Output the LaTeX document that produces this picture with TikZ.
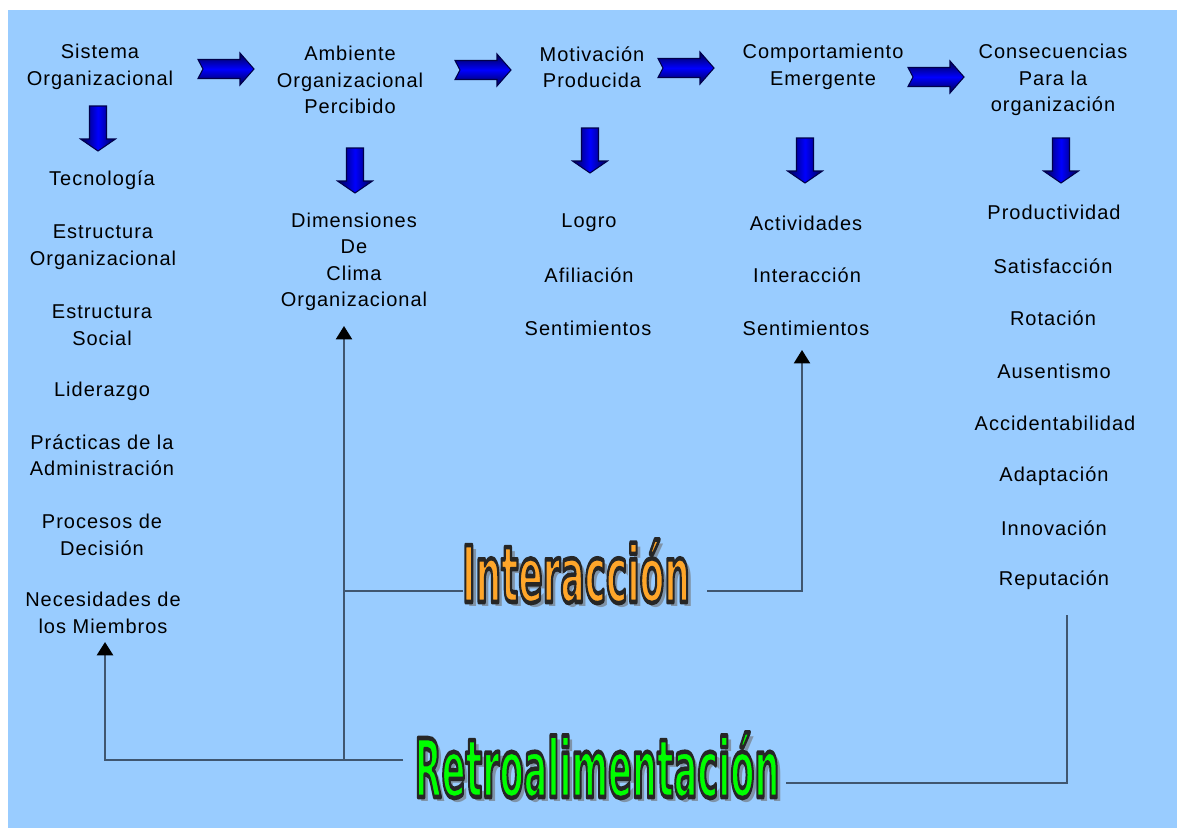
\documentclass[tikz,border=0pt]{standalone}
\usepackage{fontspec}
\setmainfont{Liberation Sans}[LetterSpace=5]
\newfontfamily\fancyfont{DejaVu Sans}
\usetikzlibrary{arrows.meta}
\definecolor{bg}{HTML}{99CCFF}
\definecolor{linec}{HTML}{3F5670}
\definecolor{navy}{HTML}{00004A}
\definecolor{brightblue}{HTML}{0000FF}
\definecolor{orangeT}{HTML}{FFA62A}
\definecolor{greenT}{HTML}{00FF00}
\definecolor{shadowc}{HTML}{7F93A8}
\newcommand\outlined[1]{\special{pdf:literal q 1 j 3.4 w 0.15 0.15 0.15 RG 2 Tr}#1\special{pdf:literal Q}}
\tikzset{
  lbl/.style={align=center, font=\fontsize{15}{19.9}\selectfont, inner sep=0pt, text=black},
  conn/.style={draw=linec, line width=1.6pt},
  tip/.style={-{Triangle[width=12pt,length=10pt,color=black]}},
  fancyI/.style={anchor=base, inner sep=0pt, xscale=0.46, font=\fancyfont\bfseries\fontsize{58.6}{60}\selectfont},
  fancyR/.style={anchor=base, inner sep=0pt, xscale=0.434, font=\fancyfont\bfseries\fontsize{60.7}{62}\selectfont},
  harrow/.pic={
    \path[draw=navy, line width=0.8pt, top color=navy, bottom color=navy, middle color=brightblue]
      (0,-9.5) -- (42,-9.5) -- (42,-16) -- (56,0) -- (42,16) -- (42,9.5) -- (0,9.5) -- (5,0) -- cycle;
  },
  darrow/.pic={
    \path[draw=navy, line width=0.8pt, left color=navy, right color=navy, middle color=brightblue]
      (-8.5,0) -- (8.5,0) -- (8.5,33) -- (17.5,33) -- (0,45) -- (-17.5,33) -- (-8.5,33) -- cycle;
  }
}
\begin{document}
\begin{tikzpicture}[x=0.75pt,y=-0.75pt]
\useasboundingbox (0,0) rectangle (1177,828);
\fill[bg] (8,10) rectangle (1177,828);

% column 1
\node[lbl] (sis) at (100,67) {Sistema\\Organizacional};
\node[lbl] (tec) at (102,180) {Tecnología};
\node[lbl] (est1) at (103,247) {Estructura\\Organizacional};
\node[lbl] (est2) at (102,325) {Estructura\\Social};
\node[lbl] (lid) at (102,391) {Liderazgo};
\node[lbl] (pra) at (102,455) {Prácticas de la\\Administración};
\node[lbl] (pro) at (102,535) {Procesos de\\Decisión};
\node[lbl] (nec) at (103,613) {Necesidades de\\los Miembros};

% column 2
\node[lbl] (amb) at (350,80) {Ambiente\\Organizacional\\Percibido};
\node[lbl] (dim) at (354,262) {Dimensiones\\De\\Clima\\Organizacional};

% column 3
\node[lbl] (mot) at (592,67) {Motivación\\Producida};
\node[lbl] (logro) at (589,223) {Logro};
\node[lbl] (afi) at (589,275) {Afiliación};
\node[lbl] (sen1) at (588,328) {Sentimientos};

% column 4
\node[lbl] (comp) at (823,67) {Comportamiento\\Emergente};
\node[lbl] (act) at (806,223) {Actividades};
\node[lbl] (int2) at (807,275) {Interacción};
\node[lbl] (sen2) at (806,328) {Sentimientos};

% column 5
\node[lbl] (cons) at (1053,80) {Consecuencias\\Para la\\organización};
\node[lbl] (prod) at (1054,212) {Productividad};
\node[lbl] (sat) at (1053,266) {Satisfacción};
\node[lbl] (rot) at (1053,318) {Rotación};
\node[lbl] (aus) at (1054,371) {Ausentismo};
\node[lbl] (acc) at (1055,423) {Accidentabilidad};
\node[lbl] (ada) at (1054,476) {Adaptación};
\node[lbl] (inn) at (1054,528) {Innovación};
\node[lbl] (rep) at (1054,580) {Reputación};

% block arrows
\pic at (198,69) {harrow};
\pic at (455,70) {harrow};
\pic at (658,68) {harrow};
\pic at (908,77) {harrow};
\pic at (98,106) {darrow};
\pic at (355,148) {darrow};
\pic at (590,128) {darrow};
\pic at (805,138) {darrow};
\pic at (1061,138) {darrow};

% fancy labels: shadow, then outlined coloured text
\node[fancyI, text=shadowc] (intershadow) at (580,606) {Interacción};
\node[fancyR, text=shadowc] (retroshadow) at (601,801) {Retroalimentación};
\node[fancyI, text=orangeT] (inter) at (576,602) {\outlined{Interacción}};
\node[fancyR, text=greenT] (retro) at (597,797) {\outlined{Retroalimentación}};

% connector coordinates
\coordinate (rl) at (403,760);
\coordinate (necin) at (105,642);
\coordinate (j1) at (344,760);
\coordinate (dimin) at (344,326);
\coordinate (il) at (463,591);
\coordinate (ij) at (344,591);
\coordinate (ir) at (707,591);
\coordinate (sen2in) at (802,350);
\coordinate (rr) at (786,783);
\coordinate (rc) at (1067,615);

\draw[conn, line width=2pt, tip] (rl) -| (necin);
\draw[conn, tip] (j1) -- (dimin);
\draw[conn] (il) -- (ij);
\draw[conn, tip] (ir) -| (sen2in);
\draw[conn, line width=2.2pt] (rr) -| (rc);
\end{tikzpicture}
\end{document}
